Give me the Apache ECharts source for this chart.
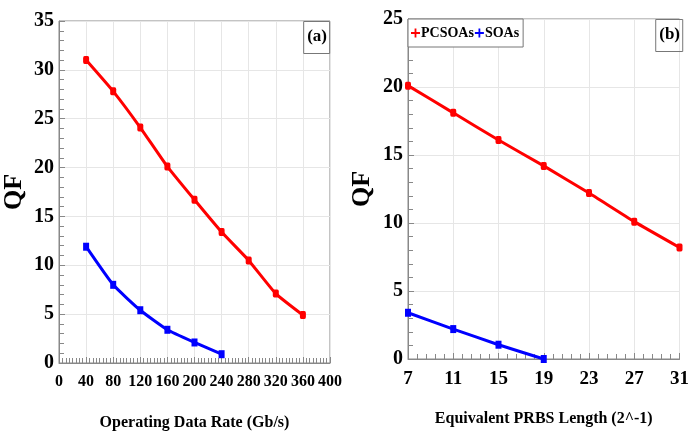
<!DOCTYPE html>
<html><head><meta charset="utf-8">
<script src="https://cdn.jsdelivr.net/npm/echarts@6/dist/echarts.min.js"></script>
<style>html,body{margin:0;padding:0;background:#fff}#c{width:692px;height:439px}</style>
</head><body><div id="c"></div>
<script>
const rateX = [40, 80, 120, 160, 200, 240, 280, 320, 360];
const rateRed = [31.0, 27.8, 24.1, 20.1, 16.7, 13.4, 10.5, 7.1, 4.9];
const rateBlueX = [40, 80, 120, 160, 200, 240];
const rateBlue = [11.9, 8.0, 5.4, 3.4, 2.1, 0.9];
const prbsX = [7, 11, 15, 19, 23, 27, 31];
const prbsRed = [20.1, 18.1, 16.1, 14.2, 12.2, 10.1, 8.2];
const prbsBlueX = [7, 11, 15, 19];
const prbsBlue = [3.4, 2.2, 1.05, 0.0];

const FONT = 'Liberation Serif';
const pair = (xs, ys) => xs.map((x, i) => [x, ys[i]]);
const plus = 'path://M4,0H6V4H10V6H6V10H4V6H0V4H4Z';

function xAxis(gi, min, max, interval, name, split, lblSize) {
  return {
    type: 'value', gridIndex: gi, min: min, max: max, interval: interval,
    name: name, nameLocation: 'middle', nameGap: 52,
    nameTextStyle: {fontFamily: FONT, fontWeight: 'bold', fontSize: 16, color: '#000'},
    axisLine: {show: true, lineStyle: {color: '#888'}},
    axisTick: {show: true, inside: true, length: 6, lineStyle: {color: '#888'}},
    minorTick: {show: true, splitNumber: split, length: 5, lineStyle: {color: '#888'}},
    axisLabel: {fontFamily: FONT, fontWeight: 'bold', fontSize: lblSize, color: '#000', margin: 11},
    splitLine: {show: true, lineStyle: {color: '#e6e6e6'}}
  };
}
function yAxis(gi, max, gap) {
  return {
    type: 'value', gridIndex: gi, min: 0, max: max, interval: 5,
    name: 'QF', nameLocation: 'middle', nameGap: gap, nameRotate: 90,
    nameTextStyle: {fontFamily: FONT, fontWeight: 'bold', fontSize: 26, color: '#000'},
    axisLine: {show: true, lineStyle: {color: '#888'}},
    axisTick: {show: true, inside: true, length: 6, lineStyle: {color: '#888'}},
    minorTick: {show: true, splitNumber: 5, length: 5, lineStyle: {color: '#888'}},
    axisLabel: {fontFamily: FONT, fontWeight: 'bold', fontSize: 20, color: '#000', margin: 5},
    splitLine: {show: true, lineStyle: {color: '#e6e6e6'}}
  };
}
function line(name, gi, data, color, sym) {
  return {
    name: name, type: 'line', xAxisIndex: gi, yAxisIndex: gi, data: data,
    smooth: 0.15, symbol: sym, symbolSize: [6, 8],
    lineStyle: {color: color, width: 3}, itemStyle: {color: color},
    emphasis: {disabled: true}, animation: false, z: 3
  };
}

const chart = echarts.init(document.getElementById('c'));
chart.setOption({
  animation: false,
  grid: [
    {left: 55, right: 362, top: 21, bottom: 76, show: true, borderColor: '#888', borderWidth: 1, backgroundColor: '#fff'},
    {left: 408, right: 9, top: 19, bottom: 80, show: true, borderColor: '#888', borderWidth: 1, backgroundColor: '#fff'}
  ],
  title: [
    {text: '(a)', right: 362, top: 21, padding: [7, 3, 9, 4], borderColor: '#777', borderWidth: 1,
     textStyle: {fontFamily: FONT, fontWeight: 'bold', fontSize: 17, color: '#000'}},
    {text: '(b)', right: 9, top: 19, padding: [7, 3, 9, 4], borderColor: '#777', borderWidth: 1,
     textStyle: {fontFamily: FONT, fontWeight: 'bold', fontSize: 17, color: '#000'}}
  ],
  legend: {
    left: 408, top: 19, padding: [7, 4, 7, 3], itemGap: 1, itemWidth: 9, itemHeight: 9,
    borderColor: '#777', borderWidth: 1, backgroundColor: '#fff',
    textStyle: {fontFamily: FONT, fontWeight: 'bold', fontSize: 14, color: '#000', padding: [0, 0, 0, -4]},
    data: [{name: 'PCSOAs', icon: plus}, {name: 'SOAs', icon: plus}]
  },
  xAxis: [
    xAxis(0, 0, 400, 40, 'Operating Data Rate (Gb/s)', 8, 16),
    xAxis(1, 7, 31, 4, 'Equivalent PRBS Length (2^-1)', 5, 19)
  ],
  yAxis: [yAxis(0, 35, 32), yAxis(1, 25, 33)],
  series: [
    line('PCSOAs', 0, pair(rateX, rateRed), '#ff0000', 'roundRect'),
    line('SOAs', 0, pair(rateBlueX, rateBlue), '#0000ff', 'rect'),
    line('PCSOAs', 1, pair(prbsX, prbsRed), '#ff0000', 'roundRect'),
    line('SOAs', 1, pair(prbsBlueX, prbsBlue), '#0000ff', 'rect')
  ]
});
</script></body></html>
